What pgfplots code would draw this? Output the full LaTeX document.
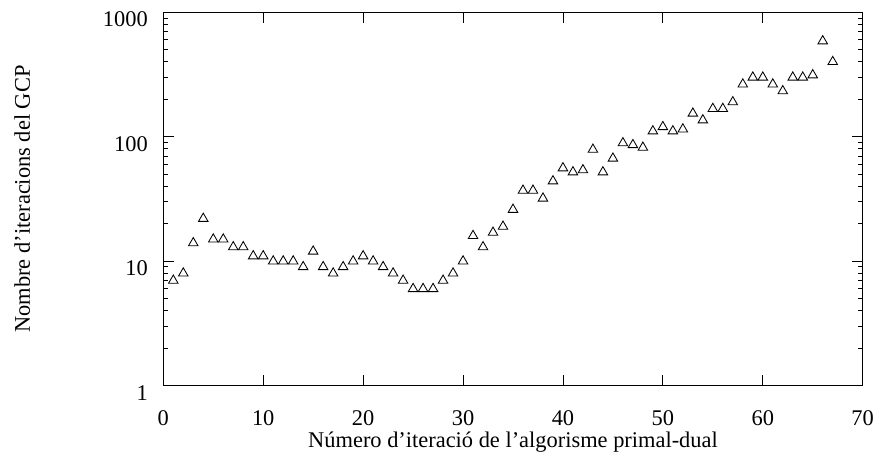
\documentclass[border=0pt]{standalone}
\usepackage{fontspec}
\setmainfont{Liberation Serif}
\usepackage{pgfplots}
\pgfplotsset{compat=1.18}
\usetikzlibrary{calc}

\begin{document}
\begin{tikzpicture}
\begin{axis}[
  name=ax,
  scale only axis,
  width=699.4bp, height=373.4bp,
  ymode=log,
  xmin=0, xmax=70,
  ymin=1, ymax=1000,
  xtick={0,10,...,70},
  ytick={1,10,100,1000},
  yticklabels={1,10,100,1000},
  minor ytick={2,3,...,9,20,30,...,90,200,300,...,900},
  tick align=inside,
  major tick length=11bp,
  minor tick length=5bp,
  axis line style={line width=0.9bp},
  every tick/.style={black, line width=0.9bp},
  font=\fontsize{22.5}{27}\selectfont,
  /pgf/number format/assume math mode=true,
  every tick label/.append style={inner sep=0pt},
  x tick label style={anchor=base, yshift=-39.8bp},
  y tick label style={anchor=base east, xshift=-15.3bp, yshift=-14.5bp},
  xlabel={Número d'iteració de l'algorisme primal-dual},
  ylabel={Nombre d'iteracions del GCP},
  xlabel style={at={(axis description cs:0.5,0)}, anchor=base, yshift=-62.3bp, inner sep=0pt},
  ylabel style={at={(axis description cs:-0.1906,0.5)}, anchor=base, inner sep=0pt},
]
\addplot[only marks, black, mark=triangle, mark size=5.5bp,
  mark options={line width=0.85bp, fill=white}] coordinates {
  (1,7) (2,8) (3,14) (4,22) (5,15) (6,15) (7,13) (8,13) (9,11) (10,11)
  (11,10) (12,10) (13,10) (14,9) (15,12) (16,9) (17,8) (18,9) (19,10) (20,11)
  (21,10) (22,9) (23,8) (24,7) (25,6) (26,6) (27,6) (28,7) (29,8) (30,10)
  (31,16) (32,13) (33,17) (34,19) (35,26) (36,37) (37,37) (38,32) (39,44) (40,56)
  (41,52) (42,54) (43,79) (44,52) (45,67) (46,89) (47,86) (48,82) (49,111) (50,120)
  (51,111) (52,115) (53,154) (54,136) (55,168) (56,168) (57,190) (58,264) (59,300) (60,300)
  (61,264) (62,233) (63,300) (64,300) (65,313) (66,587) (67,400)
};
\end{axis}
\path ($(ax.south west)+(-163.3bp,-70.3bp)$) rectangle ($(ax.north east)+(14.3bp,12.3bp)$);
\end{tikzpicture}
\end{document}
